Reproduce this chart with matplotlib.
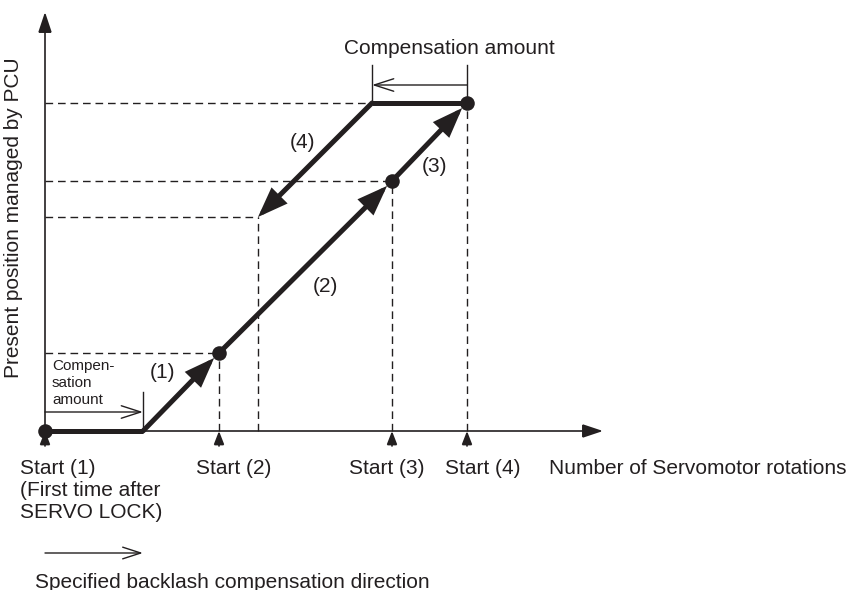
import matplotlib
matplotlib.use("Agg")
import matplotlib.pyplot as plt

plt.rcParams['font.family'] = ['Liberation Sans', 'DejaVu Sans']
ink = '#231f20'

# backlash compensation amount (rotation units)
backlash = 98
# forward travel: start (1) -> backlash taken up -> start (2) -> start (3) -> start (4)
fwd_rot = [0, 98, 174, 347, 422]
fwd_pos = [0, 0, 78, 250, 328]
# start points marked on the rotation axis
start_rot = [0, 174, 347, 422]
start_pos = [0, 78, 250, 328]
start_labels = ['Start (1)', 'Start (2)', 'Start (3)', 'Start (4)']
# reverse travel (4): backlash first, then back down
rev_rot = [422, 327, 213]
rev_pos = [328, 328, 214]

fig = plt.figure(figsize=(8.53, 5.90), dpi=100)
ax = fig.add_axes([0, 0, 1, 1])
ax.set_xlim(-45, 808)
ax.set_ylim(-159, 431)
ax.axis('off')


def arrow(x0, y0, x1, y1, style, lw, scale, shrink=0, z=3):
    ax.annotate('', xy=(x1, y1), xytext=(x0, y0),
                arrowprops=dict(arrowstyle=style, color=ink, lw=lw,
                                mutation_scale=scale, shrinkA=0, shrinkB=shrink,
                                joinstyle='miter'),
                zorder=z)


# axes
arrow(0, 0, 0, 419, '-|>,head_length=0.9,head_width=0.3', 1.2, 14)
arrow(0, 0, 558, 0, '-|>,head_length=0.9,head_width=0.3', 1.2, 14)

# dashed guide lines
dash = dict(color=ink, lw=1.0, ls=(0, (5.5, 3.5)), zorder=1)
ax.plot([0, rev_rot[1]], [rev_pos[1]] * 2, **dash)
ax.plot([0, start_rot[2]], [start_pos[2]] * 2, **dash)
ax.plot([0, rev_rot[2]], [rev_pos[2]] * 2, **dash)
ax.plot([0, start_rot[1]], [start_pos[1]] * 2, **dash)
for r, p in zip(start_rot[1:], start_pos[1:]):
    ax.plot([r, r], [0, p], **dash)
ax.plot([rev_rot[2]] * 2, [0, rev_pos[2]], **dash)

# thick travel lines
thick = dict(color=ink, lw=3.6, solid_capstyle='butt', zorder=3)
ax.plot(fwd_rot[:2], fwd_pos[:2], **thick)
ax.plot(rev_rot[:2], rev_pos[:2], **thick)
head = '-|>,head_length=0.75,head_width=0.28'
for i in range(1, 4):
    arrow(fwd_rot[i], fwd_pos[i], fwd_rot[i + 1], fwd_pos[i + 1], head, 3.6, 20, shrink=5)
arrow(rev_rot[1], rev_pos[1], rev_rot[2], rev_pos[2], head, 3.6, 20)
ax.scatter(start_rot, start_pos, s=110, color=ink, zorder=5, linewidths=0)

# start markers under the axis
for r in start_rot:
    arrow(r, -15, r, 0, '-|>,head_length=0.9,head_width=0.35', 1.2, 9)

# compensation amount dimensions
thin = dict(color=ink, lw=1.0, zorder=2)
ax.plot([rev_rot[1]] * 2, [rev_pos[1], 366], **thin)
ax.plot([rev_rot[0]] * 2, [rev_pos[0], 366], **thin)
arrow(rev_rot[0], 346, rev_rot[1], 346, '->,head_length=1.4,head_width=0.45', 1.0, 10)
ax.plot([backlash] * 2, [0, 39], **thin)
arrow(0, 19, backlash, 19, '->,head_length=1.4,head_width=0.45', 1.0, 10)

# legend arrow for the compensation direction
arrow(0, -122, backlash, -122, '->,head_length=1.3,head_width=0.42', 1.0, 10)

fs = 15
txt = dict(color=ink, fontsize=fs)
ax.text(404, 383, 'Compensation amount', ha='center', va='center', **txt)
ax.text(118, 58, '(1)', ha='center', va='center', **txt)
ax.text(280, 145, '(2)', ha='center', va='center', **txt)
ax.text(390, 264, '(3)', ha='center', va='center', **txt)
ax.text(258, 289, '(4)', ha='center', va='center', **txt)
ax.text(7, 48, 'Compen-\nsation\namount', ha='left', va='center',
        color=ink, fontsize=11, linespacing=1.3)

label_x = [-25, 189, 342, 438]
for lx, lab in zip(label_x, start_labels):
    ax.text(lx, -37, lab, ha='left' if lx < 0 else 'center', va='center', **txt)
ax.text(-25, -59, '(First time after', ha='left', va='center', **txt)
ax.text(-25, -81, 'SERVO LOCK)', ha='left', va='center', **txt)
ax.text(504, -37, 'Number of Servomotor rotations', ha='left', va='center', **txt)
ax.text(-10, -151, 'Specified backlash compensation direction', ha='left', va='center', **txt)
ax.text(-31, 213, 'Present position managed by PCU', rotation=90,
        ha='center', va='center', **txt)

fig.savefig('out.png', dpi=100)
